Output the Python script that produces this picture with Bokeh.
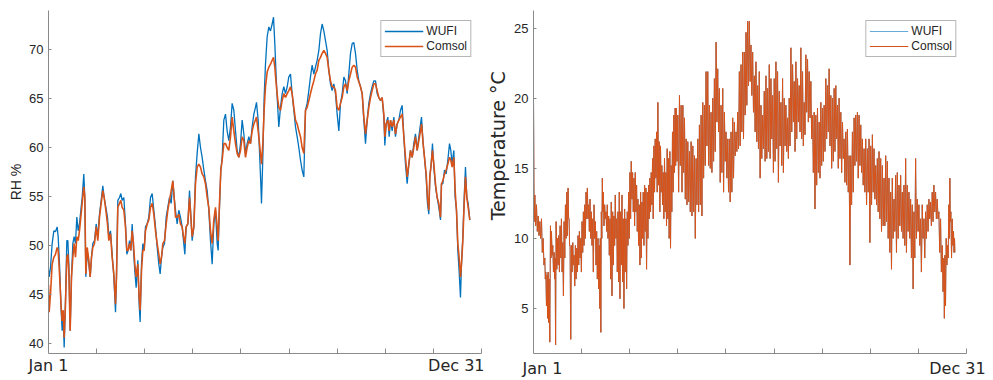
from bokeh.plotting import figure
from bokeh.layouts import row
from bokeh.models import FixedTicker, Legend, LegendItem, Range1d, LinearAxis
from bokeh.embed import file_html
from bokeh.resources import INLINE

# ---------------- data: relative humidity (hour of year, %) ----------------
rh_hours = [0, 14, 42, 76, 111, 145, 180, 201, 229, 263, 284, 305, 326, 353, 381, 402, 423, 450, 478, 506,
            533, 561, 589, 617, 644, 672, 700, 734, 755, 776, 804, 838, 866, 894, 921, 956, 991, 1025, 1060, 1095,
            1129, 1157, 1192, 1226, 1254, 1289, 1323, 1358, 1393, 1413, 1441, 1476, 1503, 1531, 1566, 1600, 1628, 1656, 1684, 1711,
            1739, 1767, 1794, 1822, 1857, 1884, 1905, 1933, 1961, 1988, 2016, 2051, 2085, 2120, 2155, 2189, 2224, 2259, 2293, 2321,
            2349, 2376, 2411, 2446, 2480, 2515, 2550, 2584, 2612, 2640, 2674, 2709, 2743, 2778, 2806, 2834, 2861, 2896, 2931,
            2986, 3021, 3055, 3090, 3125, 3159, 3194, 3229, 3263, 3298, 3332, 3367, 3402, 3436, 3471, 3506, 3526, 3554, 3582, 3610,
            3644, 3679, 3713, 3748, 3783, 3817, 3852, 3887, 3921, 3956, 3991, 4025, 4060, 4095, 4129, 4164, 4198, 4233, 4268, 4302,
            4323, 4358, 4385, 4413, 4427, 4455, 4482, 4510, 4545, 4580, 4614, 4649, 4677, 4704, 4732, 4760, 4787, 4822, 4857, 4891,
            4926, 4961, 4995, 5030, 5064, 5099, 5134, 5168, 5203, 5238, 5272, 5307, 5342, 5376, 5411, 5445, 5480, 5515, 5549, 5584,
            5619, 5653, 5688, 5723, 5757, 5792, 5826, 5861, 5896,
            5931, 5965, 6000, 6035, 6069, 6104, 6139, 6173, 6208, 6242, 6277, 6312, 6346, 6381, 6416, 6450, 6485, 6520, 6554, 6589,
            6624, 6658, 6693, 6727, 6762, 6797, 6831, 6866, 6900, 6935, 6970, 6991, 7018, 7053, 7081, 7109, 7143, 7178, 7212, 7247,
            7282, 7316, 7351, 7386, 7420, 7455, 7490, 7524, 7559, 7593, 7628, 7663, 7697, 7732, 7753, 7787, 7815, 7850, 7877, 7905,
            7926, 7954, 7981, 8009, 8044, 8078, 8113, 8148, 8168, 8196, 8231, 8265, 8300, 8335, 8362, 8390, 8425, 8452, 8480, 8508,
            8535, 8563, 8584, 8612, 8640, 8667, 8695, 8723, 8757]

rh_wufi = [47.5, 46.8, 47.8, 50.2, 51.5, 51.4, 51.9, 50.9, 48.1, 43.4, 41.3, 42.7, 39.6, 44.4, 50.5, 50.5, 48.1, 41.3, 46.8, 50.2,
           50.9, 50.2, 52.9, 51.5, 52.2, 53.6, 54.9, 57.3, 54.9, 46.8, 49.5, 48.1, 46.8, 48.8, 50.2, 50.5, 52.2, 50.9, 53.2, 54.6,
           56.1, 54.9, 53.9, 52.9, 50.9, 51.5, 49.1, 46.8, 43.2, 46.8, 54.6, 54.9, 55.3, 54.6, 54.9, 52.2, 49.1, 49.5, 50.5, 49.5,
           52.2, 49.5, 47.4, 45.7, 48.5, 44.0, 42.2, 48.1, 50.2, 49.5, 51.9, 52.2, 52.9, 54.9, 55.3, 53.6, 51.9, 49.8, 48.1, 47.1,
           48.8, 49.8, 50.2, 52.9, 53.9, 54.9, 54.3, 56.6, 54.9, 53.6, 52.2, 53.6, 52.9, 51.9, 50.5, 49.1, 51.9, 52.2, 55.6,
           50.5, 51.9, 57.0, 59.4, 61.4, 60.0, 59.0, 57.7, 56.6, 55.6, 53.6, 50.5, 48.1, 52.2, 53.6, 50.2, 49.5, 53.9, 57.7, 59.0,
           62.8, 63.4, 61.7, 60.7, 62.1, 64.5, 63.8, 61.7, 59.7, 59.0, 60.4, 62.8, 61.4, 59.4, 60.4, 61.1, 60.4, 62.1, 63.4, 64.1,
           64.6, 62.8, 59.7, 56.3, 54.3, 59.0, 65.1, 68.5, 71.3, 72.3, 71.9, 72.6, 73.3, 70.6, 67.2, 64.5, 62.1, 64.1, 65.5, 66.2,
           65.5, 66.2, 67.2, 67.5, 65.5, 63.8, 62.1, 61.1, 60.0, 58.7, 57.7, 57.0, 63.8, 64.5, 65.8, 67.2, 68.4, 67.5, 68.2, 68.9,
           69.9, 71.6, 72.6, 71.9, 70.9, 69.9, 67.9, 66.5, 65.8,
           66.5, 65.5, 63.4, 61.7, 64.5, 65.5, 67.2, 66.8, 65.5, 67.5, 69.6, 70.6, 70.7, 69.6, 67.9, 66.8, 66.2, 65.5, 62.8, 60.4,
           62.8, 64.5, 65.5, 66.2, 66.8, 66.8, 65.5, 65.1, 64.8, 65.1, 63.1, 60.2, 62.4, 63.1, 61.1, 62.8, 61.7, 63.1, 61.1, 62.4,
           62.8, 63.8, 64.3, 61.1, 58.3, 56.3, 58.3, 59.7, 59.0, 60.4, 61.4, 59.7, 61.1, 62.4, 63.1, 60.4, 59.0, 57.0, 54.3, 53.2,
           57.0, 58.3, 60.4, 58.0, 56.0, 54.9, 53.9, 52.6, 56.3, 56.3, 57.7, 57.3, 58.7, 60.4, 59.7, 58.3, 59.7, 54.9, 53.6, 49.5,
           47.4, 44.7, 48.1, 50.9, 54.9, 58.0, 54.9, 54.3, 52.6]

rh_comsol = [46.0, 43.2, 45.1, 48.1, 48.8, 49.1, 49.8, 49.5, 47.1, 43.7, 42.3, 43.4, 40.6, 44.0, 48.8, 49.1, 47.4, 41.3, 46.8, 48.8,
             50.2, 48.8, 50.9, 50.5, 51.5, 52.9, 54.3, 56.0, 54.9, 47.1, 49.8, 48.5, 46.8, 48.8, 49.8, 50.2, 51.9, 50.5, 52.9, 54.3,
             55.6, 54.9, 53.6, 52.2, 50.5, 51.2, 48.8, 47.1, 44.0, 46.8, 53.9, 54.3, 54.6, 53.9, 53.6, 51.9, 49.5, 49.5, 50.2, 49.5,
             51.5, 50.2, 48.1, 46.8, 48.1, 44.7, 43.4, 47.4, 49.5, 49.5, 51.5, 52.2, 52.6, 53.9, 54.3, 53.2, 51.5, 50.2, 49.1, 48.1,
             48.8, 50.2, 50.5, 52.2, 53.6, 54.6, 55.6, 56.6, 54.9, 52.9, 52.9, 53.2, 52.2, 51.9, 50.9, 50.2, 51.9, 52.2, 54.9,
             50.9, 51.9, 56.3, 58.0, 58.3, 58.0, 57.3, 57.0, 56.3, 54.9, 53.9, 51.5, 50.2, 52.6, 53.9, 51.9, 50.5, 54.3, 57.7, 58.7,
             60.4, 60.4, 60.0, 59.7, 61.1, 63.1, 61.7, 60.4, 59.4, 59.0, 59.7, 61.1, 60.7, 59.0, 60.0, 60.7, 60.4, 61.7, 62.4, 62.8,
             63.1, 61.7, 60.4, 59.0, 58.3, 60.4, 63.8, 66.2, 67.7, 68.2, 68.5, 68.9, 69.2, 68.2, 66.5, 65.1, 64.1, 63.8, 64.8, 65.5,
             65.1, 65.5, 65.8, 66.2, 65.5, 64.1, 62.8, 62.4, 61.7, 61.1, 60.0, 59.4, 63.8, 64.1, 64.8, 65.5, 66.2, 66.8, 67.5, 67.9,
             68.9, 69.2, 69.6, 69.9, 69.6, 69.2, 67.9, 66.8, 66.2,
             66.2, 65.8, 64.1, 63.8, 64.5, 65.1, 66.2, 66.5, 65.8, 66.8, 67.5, 68.2, 68.4, 68.2, 67.2, 66.7, 66.2, 65.5, 63.1, 61.4,
             62.8, 64.1, 65.1, 65.8, 66.5, 66.5, 65.8, 65.1, 64.8, 65.1, 63.4, 61.1, 62.4, 62.8, 61.7, 62.8, 62.1, 62.8, 61.4, 62.4,
             62.8, 63.1, 63.4, 61.1, 59.0, 57.0, 58.3, 59.7, 59.0, 60.0, 61.1, 59.7, 60.7, 61.7, 62.4, 60.4, 59.0, 57.3, 54.9, 53.6,
             57.0, 58.3, 59.7, 58.3, 56.3, 54.9, 54.3, 52.9, 56.3, 56.6, 57.3, 57.7, 58.3, 59.0, 58.7, 58.0, 59.0, 55.6, 53.6, 50.2,
             48.8, 46.8, 48.1, 50.5, 54.3, 57.0, 54.9, 53.9, 52.6]

# ---------------- data: temperature (daily highs / lows, deg C) ----------------
# WUFI and Comsol temperatures coincide; the same readings are used for both.
temp_hours = [0, 28, 62, 97, 131, 166, 200, 235, 256, 283, 304, 325, 353, 373, 401, 429, 449, 470, 498, 525,
              553, 581, 608, 636, 664, 691, 719, 740, 760, 788, 816, 843, 871, 899, 926, 954, 982, 1009, 1037, 1064,
              1092, 1120, 1147, 1175, 1203, 1230, 1258, 1286, 1313, 1341, 1368, 1389, 1410, 1431, 1451, 1479, 1507, 1534, 1562, 1590,
              1617, 1645, 1673, 1700, 1728, 1756, 1783, 1811, 1839, 1866, 1894, 1922, 1949, 1977, 2005, 2032, 2060, 2088, 2115, 2143,
              2171, 2198, 2226, 2253, 2281, 2309, 2336, 2364, 2392, 2419, 2447, 2475, 2502, 2530, 2558, 2585, 2613, 2640, 2668, 2696,
              2723, 2751, 2779, 2806, 2834, 2862, 2889, 2917, 2945,
              2965, 2999, 3034, 3069, 3104, 3138, 3173, 3207, 3242, 3276, 3311, 3346, 3380, 3415, 3449, 3484, 3518, 3553, 3587, 3622,
              3657, 3691, 3726, 3760, 3795, 3829, 3864, 3898, 3933, 3968, 4002, 4037, 4071, 4106, 4140, 4175, 4210, 4244, 4279, 4313,
              4348, 4382, 4417, 4451, 4486, 4520, 4555, 4590, 4624, 4659, 4693, 4728, 4762, 4797, 4832, 4866, 4901, 4935, 4970, 5004,
              5039, 5073, 5108, 5143, 5177, 5212, 5246, 5281, 5315, 5350, 5385, 5419, 5454, 5488, 5523, 5557, 5592, 5626, 5661, 5696,
              5730, 5765, 5799, 5834, 5868, 5903,
              5938, 5972, 6007, 6041, 6076, 6110, 6145, 6180, 6214, 6249, 6283, 6318, 6352, 6387, 6422, 6456, 6491, 6525, 6560, 6594,
              6629, 6664, 6698, 6733, 6767, 6802, 6836, 6871, 6905, 6940, 6975, 7009, 7044, 7078, 7113, 7147, 7182, 7216, 7251, 7286,
              7320, 7355, 7389, 7424, 7458, 7493, 7527, 7562, 7597, 7631, 7666, 7700, 7735, 7769, 7804, 7838, 7873, 7908, 7942, 7977,
              8011, 8046, 8080, 8115, 8149, 8184, 8219, 8253, 8288, 8322, 8357, 8391, 8426, 8461, 8495, 8530, 8550, 8578, 8606, 8633,
              8654, 8675, 8703, 8730, 8751]

temp_high = [20.0, 13.1, 12.4, 11.6, 11.2, 11.4, 10.0, 8.6, 7.6, 7.4, 7.6, 7.1, 10.9, 10.5, 9.5, 9.0, 8.6, 11.2, 10.0, 10.2,
             10.9, 11.4, 9.7, 11.2, 12.4, 13.3, 13.6, 11.4, 9.5, 9.5, 9.7, 8.8, 9.5, 9.3, 10.2, 10.5, 10.0, 11.2, 11.9, 12.4,
             13.3, 13.6, 12.4, 12.8, 11.9, 11.4, 12.4, 11.2, 10.5, 10.0, 9.5, 10.0, 11.9, 14.3, 13.3, 12.4, 11.9, 12.4, 11.6, 11.4,
             12.6, 11.9, 11.6, 13.1, 11.4, 11.9, 13.3, 11.9, 13.1, 11.4, 12.1, 11.4, 11.9, 13.3, 14.7, 15.5, 14.7, 14.3, 14.7, 13.8,
             12.8, 12.4, 13.3, 12.6, 13.3, 13.8, 13.6, 13.3, 13.8, 14.3, 14.7, 15.7, 16.6, 17.1, 17.6, 19.7, 16.9, 16.6, 15.2, 14.7,
             15.7, 14.7, 16.4, 15.7, 16.2, 15.2, 17.6, 18.8, 19.3,
             19.3, 18.8, 20.2, 19.5, 19.5, 18.6, 17.1, 16.9, 16.2, 16.9, 16.6, 15.9, 15.7, 17.1, 18.1, 18.8, 19.7, 19.5, 21.9, 21.9,
             19.5, 19.0, 20.0, 21.4, 24.0, 22.1, 20.7, 19.5, 20.7, 19.0, 17.6, 17.1, 17.1, 17.6, 18.6, 18.3, 17.6, 19.0, 21.9, 22.4,
             23.3, 23.3, 24.7, 25.5, 25.5, 23.8, 23.3, 21.6, 22.6, 20.9, 21.9, 19.5, 18.8, 20.5, 21.6, 20.7, 22.4, 21.4, 20.2, 21.4,
             22.6, 21.9, 20.5, 19.7, 21.4, 20.0, 19.5, 18.6, 20.0, 23.6, 22.4, 21.2, 22.6, 21.4, 20.9, 23.6, 21.9, 19.7, 23.1, 22.8,
             21.9, 21.2, 18.8, 19.0, 18.8, 19.3,
             18.3, 19.7, 19.3, 19.5, 21.4, 20.9, 22.1, 20.2, 20.0, 20.7, 20.9, 19.5, 20.0, 19.0, 18.3, 17.1, 17.6, 17.8, 15.9, 15.9,
             17.6, 18.6, 18.8, 19.0, 18.8, 18.1, 17.1, 16.4, 17.1, 16.4, 17.1, 16.6, 17.4, 16.4, 15.2, 15.7, 16.2, 15.7, 15.2, 14.3,
             15.9, 15.5, 14.3, 13.3, 14.3, 12.8, 14.5, 14.7, 13.8, 14.5, 13.3, 13.8, 15.7, 13.8, 13.3, 12.8, 12.4, 11.9, 15.7, 12.8,
             12.4, 11.4, 12.4, 11.4, 11.9, 12.4, 12.8, 12.6, 13.3, 13.8, 13.3, 12.8, 11.9, 11.4, 9.5, 8.6, 8.8, 10.0, 9.5, 12.4,
             14.3, 11.9, 11.4, 10.5, 10.0]

temp_low = [11.2, 10.9, 10.5, 10.2, 10.0, 9.0, 8.1, 7.1, 5.2, 4.3, 4.0, 2.6, 8.6, 8.8, 7.6, 7.1, 2.4, 7.8, 8.1, 7.6,
            8.6, 7.6, 5.9, 8.6, 10.0, 10.2, 11.4, 9.5, 2.8, 7.6, 8.1, 6.6, 7.1, 7.6, 8.1, 8.6, 7.6, 9.0, 9.5, 10.0,
            11.4, 11.4, 10.5, 10.0, 9.5, 7.6, 10.0, 8.1, 7.1, 6.4, 5.0, 3.3, 10.0, 11.9, 10.9, 11.4, 10.5, 10.0, 8.8, 7.1,
            5.9, 8.1, 9.5, 10.0, 7.6, 6.9, 5.7, 8.1, 6.9, 5.0, 7.6, 6.4, 9.5, 10.0, 11.4, 12.8, 11.9, 10.9, 11.9, 10.5,
            9.5, 8.1, 8.6, 10.0, 9.5, 10.5, 7.8, 10.0, 11.4, 11.9, 12.4, 11.4, 13.3, 14.3, 13.3, 13.8, 11.9, 13.3, 12.4, 11.4,
            11.9, 10.9, 11.4, 10.0, 9.3, 11.9, 13.3, 14.7, 15.2,
            15.5, 13.3, 15.2, 13.3, 14.7, 12.8, 12.4, 12.6, 11.9, 11.6, 11.9, 10.0, 12.4, 11.9, 12.4, 11.6, 14.3, 15.2, 16.6, 15.2,
            15.0, 14.7, 15.5, 16.2, 18.3, 17.6, 14.0, 14.7, 13.3, 15.5, 14.3, 13.3, 12.6, 13.3, 14.3, 15.9, 16.2, 16.4, 16.6, 17.6,
            17.1, 18.8, 19.5, 20.9, 21.2, 20.2, 19.0, 17.6, 16.9, 16.4, 14.3, 15.7, 16.4, 15.5, 15.7, 16.2, 15.7, 17.1, 14.7, 15.5,
            16.4, 14.0, 16.6, 15.2, 14.7, 16.6, 16.2, 15.7, 16.6, 17.6, 18.3, 16.2, 17.1, 18.3, 17.6, 17.1, 16.6, 17.4, 19.0, 18.3,
            18.6, 17.1, 14.7, 12.1, 13.8, 14.7,
            14.3, 15.2, 15.5, 16.2, 17.1, 17.6, 16.6, 15.0, 15.5, 16.2, 17.1, 15.0, 15.7, 14.7, 15.7, 14.0, 13.8, 13.3, 8.1, 12.4,
            13.3, 15.2, 15.5, 14.3, 15.2, 14.7, 13.8, 13.3, 12.4, 13.3, 9.7, 12.4, 13.3, 12.8, 12.4, 11.9, 11.4, 10.5, 10.9, 10.9,
            11.2, 10.0, 9.0, 7.8, 10.0, 10.5, 9.0, 10.0, 10.9, 10.5, 10.0, 9.5, 9.0, 10.5, 10.0, 8.6, 6.4, 8.6, 10.0, 10.5,
            9.5, 7.6, 10.0, 8.6, 10.0, 10.5, 11.4, 10.9, 11.2, 11.9, 11.4, 11.4, 9.0, 7.6, 6.2, 4.3, 5.2, 8.1, 8.6, 10.0,
            11.2, 8.6, 9.5, 9.0, 9.0]

x_tick_hours = [1000, 2000, 3000, 4000, 5000, 6000, 7000, 8000, 9000]
rh_ticks = [40, 45, 50, 55, 60, 65, 70]
temp_ticks = [5, 10, 15, 20, 25]
series_names = ["WUFI", "Comsol"]
date_labels = ["Jan 1", "Dec 31"]

assert len(rh_hours) == len(rh_wufi) == len(rh_comsol)
assert len(temp_hours) == len(temp_high) == len(temp_low)

BLUE = "#0072BD"
ORANGE = "#D95319"
AXIS_C = "#8a8a8a"
TEXT_C = "#262626"

# daily high / low readings interleaved into one continuous trace
tx, ty = [], []
for i, h in enumerate(temp_hours):
    nxt = temp_hours[i + 1] if i + 1 < len(temp_hours) else h + 16
    tx += [h, (h + nxt) / 2.0]
    ty += [temp_high[i], temp_low[i]]

TOP, BOTTOM = 10, 27


def make_fig(width, yr, lr_borders, yticks, ylabel, ylabel_font, ylabel_size, date_pos, date_standoff):
    p = figure(width=width, height=380, output_backend="svg", toolbar_location=None,
               x_range=Range1d(0, 9000), y_range=Range1d(*yr),
               min_border_left=lr_borders[0], min_border_right=lr_borders[1],
               min_border_top=TOP, min_border_bottom=BOTTOM)
    p.outline_line_color = None
    p.xgrid.grid_line_color = None
    p.ygrid.grid_line_color = None
    p.background_fill_color = "white"
    p.border_fill_color = "white"

    xa = p.xaxis[0]
    xa.ticker = FixedTicker(ticks=x_tick_hours)
    xa.major_label_text_color = None
    xa.major_label_text_font_size = "0px"
    xa.major_label_standoff = 0
    xa.major_tick_in = 5
    xa.major_tick_out = 0
    xa.minor_tick_line_color = None
    xa.axis_line_color = AXIS_C
    xa.major_tick_line_color = AXIS_C

    # axis carrying only the two date labels
    da = LinearAxis(ticker=FixedTicker(ticks=date_pos),
                    major_label_overrides={float(date_pos[0]): date_labels[0],
                                           float(date_pos[1]): date_labels[1]},
                    axis_line_color=None, major_tick_line_color=None, minor_tick_line_color=None,
                    major_tick_in=0, major_tick_out=0,
                    major_label_standoff=date_standoff,
                    major_label_text_font="DejaVu Sans", major_label_text_font_size="16px",
                    major_label_text_color=TEXT_C)
    p.add_layout(da, "below")

    ya = p.yaxis[0]
    ya.ticker = FixedTicker(ticks=yticks)
    ya.major_tick_in = 3
    ya.major_tick_out = 0
    ya.minor_tick_line_color = None
    ya.axis_line_color = AXIS_C
    ya.major_tick_line_color = AXIS_C
    ya.major_label_text_font = "Liberation Sans"
    ya.major_label_text_font_size = "13px"
    ya.major_label_text_color = TEXT_C
    ya.major_label_standoff = 5
    ya.axis_label = ylabel
    ya.axis_label_text_font = ylabel_font
    ya.axis_label_text_font_size = ylabel_size
    ya.axis_label_text_font_style = "normal"
    ya.axis_label_text_color = TEXT_C
    ya.axis_label_standoff = 2
    return p


def add_legend(p, r1, r2):
    leg = Legend(items=[LegendItem(label=series_names[0], renderers=[r1]),
                        LegendItem(label=series_names[1], renderers=[r2])],
                 location="top_right")
    leg.margin = 10
    leg.padding = 3
    leg.spacing = 1
    leg.glyph_width = 39
    leg.glyph_height = 14
    leg.label_height = 14
    leg.label_standoff = 3
    leg.label_text_font = "Liberation Sans"
    leg.label_text_font_size = "12px"
    leg.label_text_color = TEXT_C
    leg.border_line_color = "#6e6e6e"
    leg.border_line_width = 1
    leg.background_fill_color = "white"
    leg.background_fill_alpha = 1.0
    p.add_layout(leg)


# ---------------- left: relative humidity ----------------
p1 = make_fig(484, (38.98, 73.98), (48, 3), rh_ticks, "RH %", "Liberation Sans", "14px",
              [0, 8563], 2)
b1 = p1.line(rh_hours, rh_wufi, line_color=BLUE, line_width=1.3)
o1 = p1.line(rh_hours, rh_comsol, line_color=ORANGE, line_width=1.6)
add_legend(p1, b1, o1)

# ---------------- right: temperature ----------------
p2 = make_fig(509, (1.79, 26.26), (48, 27), temp_ticks,
              "\u00a0" * 12 + "Temperature °C", "DejaVu Sans", "19px",
              [187, 8813], 5)
b2 = p2.line(tx, ty, line_color=BLUE, line_width=0.6)
o2 = p2.line(tx, ty, line_color=ORANGE, line_width=1.0)
add_legend(p2, b2, o2)

layout = row(p1, p2, spacing=0)
open("out.html", "w").write(file_html(layout, INLINE))
